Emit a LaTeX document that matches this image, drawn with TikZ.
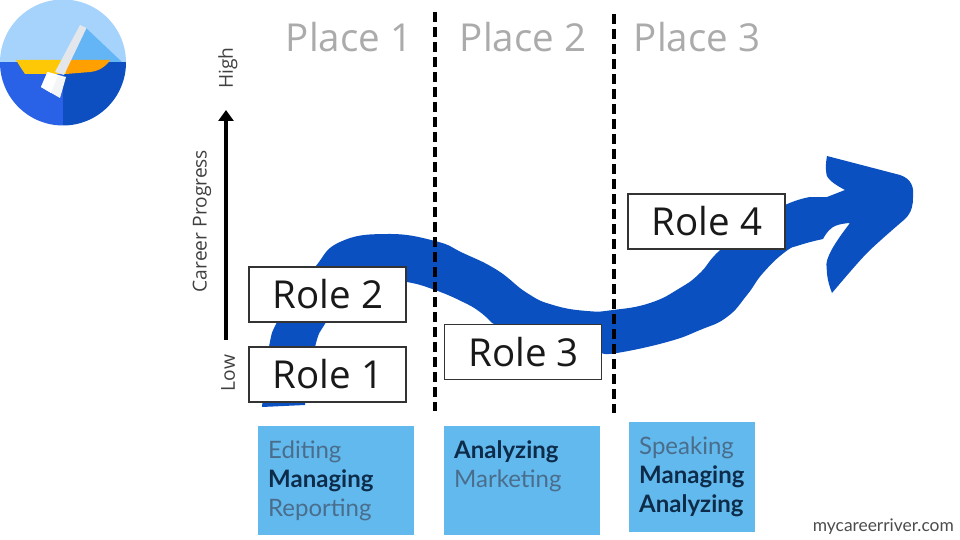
\documentclass[tikz,border=0pt]{standalone}
\usepackage{fontspec}
\setmainfont{Open Sans}
\newfontfamily\latofont{Lato}
\usetikzlibrary{arrows.meta}
\definecolor{river}{HTML}{0B50C0}
\definecolor{skill}{HTML}{62B9ED}
\definecolor{skilldark}{HTML}{0E2C4A}
\definecolor{skilllight}{HTML}{4A6D8C}
\definecolor{placegray}{HTML}{ABABAB}
\definecolor{boxedge}{HTML}{333333}
\definecolor{sky}{HTML}{A6D3FB}
\definecolor{seaL}{HTML}{2962E6}
\definecolor{seaR}{HTML}{0D4FC0}
\definecolor{boatL}{HTML}{FFC807}
\definecolor{boatR}{HTML}{FFA000}
\definecolor{sail}{HTML}{64B5F6}
\definecolor{oar}{HTML}{E3E6EB}
\definecolor{oarlight}{HTML}{F4F5F7}
\tikzset{
 rolebox/.style={draw=boxedge,line width=1.3pt,fill=white,minimum width=157pt,minimum height=55pt,inner sep=0pt,font=\fontsize{38.5}{38.5}\selectfont,text=black!90},
 placelabel/.style={font=\fontsize{38.5}{38.5}\selectfont,text=placegray,inner sep=0pt},
 axislabel/.style={font=\fontsize{19.2}{19.2}\selectfont,text=black!75,rotate=90,inner sep=0pt},
 skillbox/.style={fill=skill,inner sep=0pt,anchor=north west},
 skilltext/.style={font=\latofont\fontsize{24}{24}\selectfont,anchor=base west,inner sep=0pt},
 weak/.style={skilltext,text=skilllight},
 strong/.style={skilltext,text=skilldark,font=\latofont\bfseries\fontsize{24}{24}\selectfont},
 divider/.style={line width=3.4pt,black,dash pattern=on 10pt off 5pt},
}
\begin{document}
\begin{tikzpicture}[x=1pt,y=-1pt]
\useasboundingbox (0,0) rectangle (960,540);
\fill[white] (0,0) rectangle (960,540);
% logo
\begin{scope}
\clip (63,62.5) circle (63);
\fill[sky] (0,0) rectangle (126,62);
\fill[sail] (86,28) -- (122,62) -- (70,62) -- cycle;
\fill[seaL] (0,62) rectangle (63,126);
\fill[seaR] (63,62) rectangle (126,126);
\fill[boatL] (16,60) -- (66,60) -- (66,74) -- (25,74) -- (21,68) -- cycle;
\fill[boatR] (66,60) -- (110,60) -- (108,63) .. controls (102,69) and (98,71) .. (90,72) -- (66,74) -- cycle;
\fill[oar] (80,25) -- (86.5,28) -- (64,75) -- (55,72) -- cycle;
\fill[oarlight] (47.5,72) -- (66,77) -- (60,98) -- (41,87) -- cycle;
\fill[white] (47.5,72) -- (58,75) -- (51,93) -- (41,87) -- cycle;
\end{scope}
% river
\fill[river] (262,407) -- (305,405)
 -- plot[smooth,tension=.8] coordinates {(305,405) (315,347) (326,322) (345,292) (380,280) (407,282) (435,290) (463,302) (480,312) (492,323)}
 -- (540,345) -- (602,353)
 -- plot[smooth,tension=.8] coordinates {(602,353) (617,353) (667,342) (700,330) (727,317) (747,295) (763,273) (785,252) (800,245) (823,239)}
 -- plot[smooth,tension=.8] coordinates {(823,239) (833,227) (850,223)}
 -- plot[smooth,tension=.8] coordinates {(850,223) (830,253) (827,273) (832,293)}
 -- plot[smooth,tension=.5] coordinates {(832,293) (867,253) (905,219)}
 .. controls (912,212) and (913,205) .. (913,197)
 .. controls (914,188) and (912,179) .. (900,175)
 -- (827,156)
 -- plot[smooth,tension=.8] coordinates {(827,156) (826,170) (830,180) (845,190)}
 -- (827,197) -- (810,197)
 -- plot[smooth,tension=.8] coordinates {(810,197) (785,205) (750,225) (718,252) (700,273) (680,288) (650,303) (613,310) (587,311) (553,305) (527,293) (497,270) (463,253) (435,241) (387,234) (340,242) (315,267) (290,300) (277,322) (269,347) (262,407)}
 -- cycle;
% dividers
\coordinate (d1a) at (435,12); \coordinate (d1b) at (435,411);
\coordinate (d2a) at (614,14); \coordinate (d2b) at (614,413);
\draw[divider] (d1a) -- (d1b);
\draw[divider] (d2a) -- (d2b);
% axis
\coordinate (axlow) at (226,340); \coordinate (axhigh) at (226,110);
\draw[line width=3.2pt,black,-{Triangle[length=11pt,width=15pt]}] (axlow) -- (axhigh);
\node[axislabel] (high) at (228,68) {High};
\node[axislabel] (low) at (228,373) {Low};
\node[axislabel] (progress) at (202,221) {Career Progress};
% places
\node[placelabel] (p1) at (349,37) {Place 1};
\node[placelabel] (p2) at (523,37) {Place 2};
\node[placelabel] (p3) at (697,37) {Place 3};
% roles
\node[rolebox] (r1) at (327.5,374.5) {\raisebox{-1pt}{\hspace{1pt}Role 1}};
\node[rolebox] (r2) at (327.5,294.5) {\raisebox{-1pt}{\hspace{1pt}Role 2}};
\node[rolebox] (r3) at (523,352) {\raisebox{-1pt}{\hspace{1pt}Role 3}};
\node[rolebox] (r4) at (706.5,221.5) {\raisebox{-1pt}{\hspace{1pt}Role 4}};
% skills
\node[skillbox,minimum width=156pt,minimum height=109pt] (s1) at (258,426) {};
\node[skillbox,minimum width=156pt,minimum height=109pt] (s2) at (444,426) {};
\node[skillbox,minimum width=126pt,minimum height=110pt] (s3) at (629,422) {};
\node[weak] (s1a) at (268,458) {Editing};
\node[strong] (s1b) at (268,487) {Managing};
\node[weak] (s1c) at (268,516) {Reporting};
\node[strong] (s2a) at (454,458) {Analyzing};
\node[weak] (s2b) at (454,487) {Marketing};
\node[weak] (s3a) at (639,454) {Speaking};
\node[strong] (s3b) at (639,483) {Managing};
\node[strong] (s3c) at (639,512) {Analyzing};
\node[font=\latofont\fontsize{17.4}{17.4}\selectfont,text=black!70,anchor=base east,inner sep=0pt] (site) at (954,531) {mycareerriver.com};
\end{tikzpicture}
\end{document}
